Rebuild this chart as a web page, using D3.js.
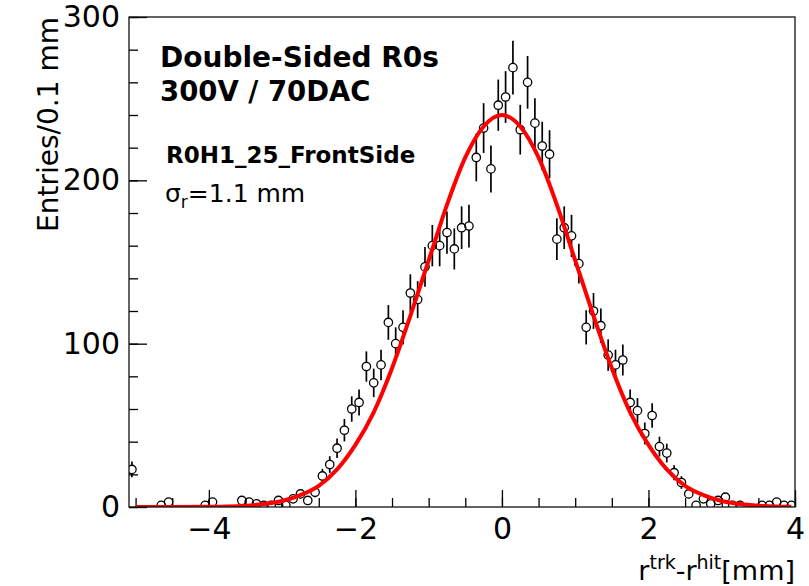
<meta charset="utf-8">

<style>
    body {
        margin: 0;
        background: #ffffff;
    }

    text {
        font-family: "DejaVu Sans", sans-serif;
        fill: #000000;
    }
</style>

<body>
<script src="https://d3js.org/d3.v7.min.js"></script>
<script>

    // bin centres (0.1 mm bins) that have entries, and their counts
    const binX = [-5.05, -4.65, -4.55, -4.05, -3.95, -3.55, -3.45, -3.35, -3.25, -3.15,
        -3.05, -2.95, -2.85, -2.75, -2.65, -2.55, -2.45, -2.35, -2.25, -2.15,
        -2.05, -1.95, -1.85, -1.75, -1.65, -1.55, -1.45, -1.35, -1.25, -1.15,
        -1.05, -0.95, -0.85, -0.75, -0.65, -0.55, -0.45, -0.35, -0.25, -0.15,
        -0.05, 0.05, 0.15, 0.25, 0.35, 0.45, 0.55, 0.65, 0.75, 0.85,
        0.95, 1.05, 1.15, 1.25, 1.35, 1.45, 1.55, 1.65, 1.75, 1.85,
        1.95, 2.05, 2.15, 2.25, 2.35, 2.45, 2.55, 2.65, 2.75, 2.85,
        2.95, 3.05, 3.15, 3.25, 3.55, 3.65, 3.75, 3.85, 3.95];
    const entries = [23, 1, 3, 1, 3, 4, 3, 2, 1, 1,
        4, 1, 5, 8, 4, 9, 19, 26, 36, 47,
        60, 64, 86, 76, 87, 113, 100, 110, 131, 127,
        147, 160, 160, 168, 158, 171, 172, 214, 232, 207,
        246, 251, 269, 231, 260, 235, 221, 216, 164, 171,
        166, 149, 110, 120, 111, 93, 87, 90, 64, 59,
        45, 56, 37, 33, 21, 15, 8, 1, 5, 2,
        4, 6, 1, 1, 1, 1, 3, 1, 1];

    // gaussian fit curve
    const fitX = [-5.0, -4.5, -4.0, -3.5, -3.25, -3.0, -2.75, -2.5, -2.25, -2.0, -1.75, -1.5,
        -1.25, -1.0, -0.75, -0.5, -0.25, 0, 0.25, 0.5, 0.75, 1.0, 1.25, 1.5,
        1.75, 2.0, 2.25, 2.5, 2.75, 3.0, 3.25, 3.5, 3.75, 3.95];
    const fitY = [0, 0, 0.1, 0.8, 1.8, 3.7, 7.3, 13, 23, 38, 58, 85,
        117, 151, 185, 214, 233, 240, 233, 214, 185, 151, 117, 85,
        58, 38, 23, 13, 7.3, 3.7, 1.8, 0.8, 0.3, 0.1];

    const xMajor = [-4, -2, 0, 2, 4];
    const yMajor = [0, 100, 200, 300];

    let width = 809,
        height = 586;

    let svg = d3.select("body").append("svg")
        .attr("width", width)
        .attr("height", height);

    let x = d3.scaleLinear().domain([-5.09, 4]).range([129, 795]);
    let y = d3.scaleLinear().domain([0, 300]).range([507, 17]);

    svg.append("clipPath").attr("id", "frame")
        .append("rect")
        .attr("x", 129).attr("y", 17)
        .attr("width", 666).attr("height", 490);

    // axes: major + minor ticks, pointing inward
    let yMinorAxis = d3.axisLeft(y).tickValues(d3.range(0, 301, 20)).tickSize(-9).tickFormat("");
    let yAxis = d3.axisLeft(y).tickValues(yMajor).tickSize(-18).tickPadding(9).tickFormat(d3.format("d"));
    let xMinorAxis = d3.axisBottom(x).tickValues(d3.range(-5, 4.01, 0.5)).tickSize(-9).tickFormat("");
    let xAxis = d3.axisBottom(x).tickValues(xMajor).tickSize(-17).tickPadding(11);

    function drawAxis(axis, transform) {
        let g = svg.append("g").attr("transform", transform).call(axis);
        g.select(".domain").remove();
        g.selectAll("line").attr("stroke", "#000").attr("stroke-width", 1.3);
        g.selectAll("text").style("font-size", "30px").attr("fill", "#000");
        return g;
    }

    drawAxis(yMinorAxis, "translate(129,0)");
    drawAxis(yAxis, "translate(129,0)");
    drawAxis(xMinorAxis, "translate(0,507)");
    drawAxis(xAxis, "translate(0,507)");

    // histogram points with sqrt(N) error bars
    const r = 4.2;
    let pts = svg.append("g").attr("clip-path", "url(#frame)");
    binX.forEach(function (bx, i) {
        let n = entries[i];
        let err = Math.sqrt(n);
        let cx = x(bx), cy = y(n);
        let top = y(n + err), bot = y(Math.max(0, n - err));
        if (cy - r > top) {
            pts.append("line")
                .attr("x1", cx).attr("x2", cx)
                .attr("y1", top).attr("y2", cy - r)
                .attr("stroke", "#000").attr("stroke-width", 1.7);
        }
        if (bot > cy + r) {
            pts.append("line")
                .attr("x1", cx).attr("x2", cx)
                .attr("y1", cy + r).attr("y2", bot)
                .attr("stroke", "#000").attr("stroke-width", 1.7);
        }
        pts.append("circle")
            .attr("cx", cx).attr("cy", cy).attr("r", r)
            .attr("fill", "none")
            .attr("stroke", "#000").attr("stroke-width", 1.3);
    });

    // fit
    let fitLine = d3.line()
        .x(function (d, i) { return x(fitX[i]); })
        .y(function (d) { return y(d); })
        .curve(d3.curveMonotoneX);

    svg.append("path")
        .datum(fitY)
        .attr("clip-path", "url(#frame)")
        .attr("d", fitLine)
        .attr("fill", "none")
        .attr("stroke", "#ff0000")
        .attr("stroke-width", 4);

    // frame
    svg.append("rect")
        .attr("x", 129).attr("y", 17)
        .attr("width", 666).attr("height", 490)
        .attr("fill", "none")
        .attr("stroke", "#111")
        .attr("stroke-width", 1.3);

    // texts
    svg.append("text")
        .attr("x", 160).attr("y", 67)
        .style("font-size", "28px").style("font-weight", "bold")
        .text("Double-Sided R0s");
    svg.append("text")
        .attr("x", 160).attr("y", 101)
        .style("font-size", "27.5px").style("font-weight", "bold")
        .text("300V / 70DAC");
    svg.append("text")
        .attr("x", 166).attr("y", 163)
        .style("font-size", "23px").style("font-weight", "bold")
        .text("R0H1_25_FrontSide");

    let sig = svg.append("text")
        .attr("x", 165).attr("y", 202)
        .style("font-size", "25px");
    sig.append("tspan").text("σ");
    sig.append("tspan").attr("dy", 6).style("font-size", "17px").text("r");
    sig.append("tspan").attr("dy", -6).text("=1.1 mm");

    svg.append("text")
        .attr("transform", "translate(58,17) rotate(-90)")
        .attr("text-anchor", "end")
        .style("font-size", "28px")
        .text("Entries/0.1 mm");

    let xt = svg.append("text")
        .attr("x", 795).attr("y", 580)
        .attr("text-anchor", "end")
        .style("font-size", "27px");
    xt.append("tspan").text("r");
    xt.append("tspan").attr("dy", -11).style("font-size", "19px").text("trk");
    xt.append("tspan").attr("dy", 11).text("-r");
    xt.append("tspan").attr("dy", -11).style("font-size", "19px").text("hit");
    xt.append("tspan").attr("dy", 11).text("[mm]");

</script>
